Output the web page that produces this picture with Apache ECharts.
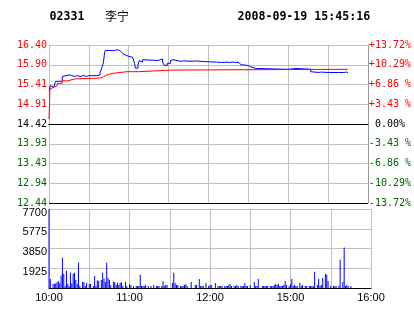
<!DOCTYPE html>
<html><head><meta charset="utf-8">
<script src="https://cdn.jsdelivr.net/npm/echarts@6/dist/echarts.min.js"></script>
<style>html,body{margin:0;padding:0;background:#fff}#c{width:414px;height:314px}</style>
</head><body><div id="c"></div>
<script>
// ---- data ----
const stockCode = '02331';
const stockName = '李宁';
const stamp = '2008-09-19 15:45:16';
const prevClose = 14.42;
const priceLabels = ['12.44','12.94','13.43','13.93','14.42','14.91','15.41','15.90','16.40'];
const pctLabels = ['-13.72%','-10.29%','-6.86 %','-3.43 %',' 0.00%','+3.43 %','+6.86 %','+10.29%','+13.72%'];
const timeTickMinutes = [0, 60, 120, 180, 240];
const timeTickLabels = ['10:00', '11:00', '12:00', '15:00', '16:00'];
const volTicks = [1925, 3850, 5775, 7700];
// price (blue): [trading minute since 10:00, price] change points
const pricePoints = [
 [0,15.25],[1,15.38],[2.5,15.34],[3.7,15.38],[4.9,15.49],[10,15.61],[11.5,15.65],[16,15.61],[19,15.63],
 [21,15.61],[24,15.64],[26,15.61],[28,15.63],[30,15.61],[31,15.63],[36,15.65],[38.5,15.71],[40,15.85],
 [41,15.97],[41.8,16.20],[42.3,16.26],[48.5,16.28],[52,16.24],[54,16.22],[55.5,16.18],[56.5,16.15],
 [57.5,16.12],[59.5,16.09],[63,16.05],[64.5,15.93],[65,15.82],[67,15.90],[68,16.01],[69.5,15.97],
 [70.5,16.03],[72,16.01],[82,16.05],[85.5,15.97],[86.5,15.90],[88,15.88],[89,15.94],[91.5,16.01],
 [93,16.03],[94,15.99],[99,16.00],[101,15.99],[108,16.00],[110,15.98],[118,15.97],[126,15.96],
 [130,15.97],[134,15.96],[136,15.97],[138,15.96],[143,15.93],[144.5,15.90],[147,15.88],[150,15.85],
 [152,15.82],[153,15.81],[156,15.79],[180,15.81],[186,15.79],[197,15.73],[198,15.71],[203,15.72],
 [205,15.71],[210,15.72],[211,15.71],[218,15.72],[219,15.71],[222,15.72],[224,15.70],[225,15.70]
];
// average price (red): change points
const avgPoints = [
 [0,14.54],[0.75,15.30],[1.7,15.34],[3.7,15.38],[6.2,15.44],[9.9,15.50],[13.7,15.55],[19.9,15.57],
 [38.5,15.60],[41,15.65],[43.5,15.69],[48.5,15.73],[58.5,15.73],[67.2,15.77],[92,15.79],[225,15.79]
];
// volume per minute: [minute, volume]
const volumePoints = [
 [0,7700],[1,886],[3,400],[4,400],[5,460],[6,560],[7,690],[8,460],[9,1210],[10,2950],[11,1380],[12,200],
 [13,1670],[14,400],[15,200],[16,1480],[17,460],[18,1380],[19,1480],[20,790],[21,400],[22,2460],[23,200],
 [25,590],[26,590],[27,200],[28,490],[30,400],[31,400],[33,200],[34,1180],[35,200],[36,750],[37,690],
 [39,790],[40,1480],[41,890],[42,590],[43,2460],[44,980],[45,790],[46,300],[48,590],[49,590],[50,300],
 [51,520],[52,300],[53,520],[54,560],[55,200],[57,620],[58,200],[60,360],[61,300],[63,200],[65,200],
 [66,200],[67,200],[68,1280],[69,200],[70,200],[71,200],[72,300],[74,200],[76,200],[78,300],[80,200],
 [81,200],[82,200],[84,200],[85,690],[86,200],[87,300],[88,300],[92,490],[93,1480],[94,490],[95,300],
 [96,300],[98,200],[99,200],[100,200],[101,300],[102,400],[103,200],[106,590],[109,300],[110,300],
 [112,886],[113,200],[114,200],[115,200],[117,490],[119,200],[120,300],[121,300],[124,490],[126,200],
 [127,200],[128,200],[129,200],[131,200],[132,200],[133,200],[134,300],[135,400],[136,200],[138,200],
 [139,200],[140,300],[141,200],[143,200],[144,200],[145,200],[146,490],[147,200],[148,200],[150,300],
 [153,590],[154,200],[155,200],[156,886],[159,200],[160,200],[161,200],[162,200],[163,200],[165,200],
 [166,200],[167,200],[168,300],[169,400],[170,300],[171,400],[172,200],[173,200],[174,200],[175,300],
 [176,690],[177,300],[179,200],[180,400],[181,886],[182,200],[183,300],[184,200],[185,200],[187,490],
 [188,200],[189,300],[191,200],[192,200],[194,200],[195,200],[196,200],[197,200],[198,1575],[200,300],
 [201,886],[202,200],[203,300],[204,980],[206,1380],[207,1280],[208,690],[210,200],[212,200],[213,200],
 [214,200],[216,200],[217,2755],[219,590],[220,3940],[221,200],[222,300],[223,200],[225,200]
];

// ---- chart ----
const toPct = p => (p / prevClose - 1) * 100;
const idxOf = v => Math.round(v / 3.43) + 4;
const colorOf = v => { const i = idxOf(v); return i > 4 ? '#ff0000' : (i === 4 ? '#000000' : '#006400'); };
const GRAY = '#c0c0c0';
const mono = '"DejaVu Sans Mono", monospace';
const sans = '"Liberation Sans", Arial, sans-serif';
const timeFmt = v => { const i = timeTickMinutes.indexOf(Math.round(v)); return i >= 0 ? timeTickLabels[i] : ''; };

const chart = echarts.init(document.getElementById('c'), null, { renderer: 'canvas' });
chart.setOption({
  animation: false,
  backgroundColor: '#ffffff',
  graphic: [
    { type: 'text', x: 49.5, y: 17, style: { text: stockCode, font: 'bold 11.6px ' + mono, fill: '#000', verticalAlign: 'middle' } },
    { type: 'text', x: 105, y: 16, style: { text: stockName, font: '12px "Noto Sans CJK SC"', fill: '#000', verticalAlign: 'middle' } },
    { type: 'text', x: 237.5, y: 17, style: { text: stamp, font: 'bold 11.6px ' + mono, fill: '#000', verticalAlign: 'middle' } }
  ],
  grid: [
    { left: 49, top: 45, width: 322, height: 158 },
    { left: 49, top: 209, width: 322, height: 79 }
  ],
  xAxis: [
    { type: 'value', gridIndex: 0, min: 0, max: 240, interval: 30,
      axisLine: { show: true, lineStyle: { color: '#000', width: 1 } }, axisTick: { show: false }, axisLabel: { show: false },
      splitLine: { show: true, lineStyle: { color: GRAY, width: 1 } } },
    { type: 'value', gridIndex: 1, min: 0, max: 240, interval: 30,
      axisLine: { show: true, lineStyle: { color: '#000', width: 1 } }, axisTick: { show: false },
      axisLabel: { show: true, formatter: timeFmt, fontFamily: sans, fontSize: 11, color: '#000', margin: 4, showMinLabel: true, showMaxLabel: true },
      splitLine: { show: true, lineStyle: { color: GRAY, width: 1 } } }
  ],
  yAxis: [
    { type: 'value', gridIndex: 0, position: 'left', min: -13.72, max: 13.72, interval: 3.43,
      axisLine: { show: false }, axisTick: { show: false },
      axisLabel: { formatter: v => priceLabels[idxOf(v)], color: colorOf, fontFamily: mono, fontSize: 10, margin: 2 },
      splitLine: { show: true, lineStyle: { width: 1, color: ['#000', GRAY, GRAY, GRAY, '#000', GRAY, GRAY, GRAY, GRAY] } } },
    { type: 'value', gridIndex: 0, position: 'right', min: -13.72, max: 13.72, interval: 3.43,
      axisLine: { show: true, lineStyle: { color: '#999999', width: 1 } }, axisTick: { show: false },
      axisLabel: { formatter: v => pctLabels[idxOf(v)], color: colorOf, fontFamily: mono, fontSize: 10, margin: 1, align: 'left' },
      splitLine: { show: false } },
    { type: 'value', gridIndex: 1, min: 0, max: 7700, interval: 1925,
      axisLine: { show: false }, axisTick: { show: false },
      axisLabel: { formatter: v => (volTicks.indexOf(Math.round(v)) >= 0 ? String(Math.round(v)) : ''), color: '#000', fontFamily: sans, fontSize: 11, margin: 2, verticalAlign: 'top', lineHeight: 7 },
      splitLine: { show: true, lineStyle: { color: GRAY, width: 1 } } }
  ],
  series: [
    { type: 'line', xAxisIndex: 0, yAxisIndex: 0, step: 'end', symbol: 'none', silent: true,
      data: pricePoints.map(d => [d[0], toPct(d[1])]), lineStyle: { color: '#0000ff', width: 1 } },
    { type: 'line', xAxisIndex: 0, yAxisIndex: 0, step: 'end', symbol: 'none', silent: true,
      data: avgPoints.map(d => [d[0], toPct(d[1])]), lineStyle: { color: '#ff0000', width: 1 } },
    { type: 'bar', xAxisIndex: 1, yAxisIndex: 2, barWidth: 1, silent: true,
      data: volumePoints, itemStyle: { color: '#0000ff' } }
  ]
});
</script></body></html>
